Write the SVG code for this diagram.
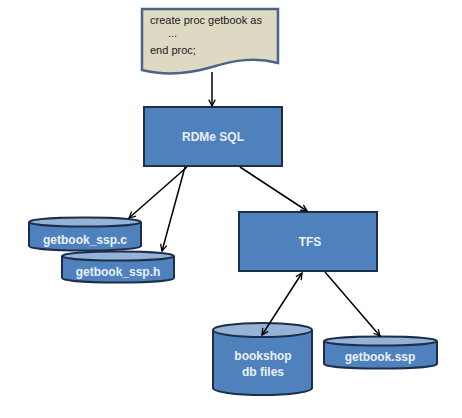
<svg xmlns="http://www.w3.org/2000/svg" width="462" height="418" viewBox="0 0 462 418">
<style>
.box{fill:#4F81BD;stroke:#1C2E4A;stroke-width:2}
.cyl{fill:#4F81BD;stroke:#1C2E4A;stroke-width:2}
.cyltop{fill:#95B3D7;stroke:#1C2E4A;stroke-width:2}
.lbl{font-family:"Liberation Sans",Arial,sans-serif;font-weight:bold;font-size:12px;fill:#EAF0F8;text-anchor:middle}
.doc{font-family:"Liberation Sans",Arial,sans-serif;font-size:11px;fill:#1a1a1a}
.con{stroke:#000;stroke-width:1.5;fill:none}
</style>
<defs>
<marker id="ah" viewBox="0 0 10 10" refX="9" refY="5" markerWidth="8" markerHeight="8" orient="auto-start-reverse" markerUnits="userSpaceOnUse">
<path d="M1,1 L9,5 L1,9" fill="none" stroke="#000" stroke-width="1.6"/>
</marker>
</defs>
<rect width="462" height="418" fill="#fff"/>
<g id="doc">
<path d="M142,9 H278 V63 C255,57 235,60 212,67 C185,75 162,75 142,70 Z" fill="#DDD9C3" stroke="#4A6488" stroke-width="2.5"/>
<text class="doc" x="150" y="24">create proc getbook as</text>
<text class="doc" x="168" y="37">...</text>
<text class="doc" x="150" y="54">end proc;</text>
</g>
<g id="rdme">
<rect class="box" x="144" y="107" width="138" height="59"/>
<text class="lbl" x="213" y="141">RDMe SQL</text>
</g>
<g id="tfs">
<rect class="box" x="239" y="212" width="138" height="59"/>
<text class="lbl" x="310" y="246">TFS</text>
</g>
<g id="sspc">
<path class="cyl" d="M29,222 V246 A56,4.5 0 0 0 141,246 V222"/>
<ellipse class="cyltop" cx="85" cy="222" rx="56" ry="4.5"/>
<text class="lbl" x="85" y="244" font-size="11">getbook_ssp.c</text>
</g>
<g id="ssph">
<path class="cyl" d="M62,256 V278 A56,4.5 0 0 0 174,278 V256"/>
<ellipse class="cyltop" cx="118" cy="256" rx="56" ry="4.5"/>
<text class="lbl" x="118" y="276" font-size="11">getbook_ssp.h</text>
</g>
<g id="bookshop">
<path class="cyl" d="M213,330 V388 A49.5,7 0 0 0 312,388 V330"/>
<ellipse class="cyltop" cx="262.5" cy="330" rx="49.5" ry="7"/>
<text class="lbl" x="263" y="360" font-size="11">bookshop</text>
<text class="lbl" x="263" y="376" font-size="11">db files</text>
</g>
<g id="ssp">
<path class="cyl" d="M324,341 V364 A56.5,4.5 0 0 0 437,364 V341"/>
<ellipse class="cyltop" cx="380.5" cy="341" rx="56.5" ry="4.5"/>
<text class="lbl" x="380" y="361" font-size="11">getbook.ssp</text>
</g>
<g id="connectors">
<line class="con" x1="212" y1="72" x2="212" y2="106" marker-end="url(#ah)"/>
<line class="con" x1="187" y1="167" x2="129" y2="218" marker-end="url(#ah)"/>
<line class="con" x1="185" y1="167" x2="162" y2="251" marker-end="url(#ah)"/>
<line class="con" x1="240" y1="167" x2="307" y2="211" marker-end="url(#ah)"/>
<line class="con" x1="302" y1="273" x2="262" y2="335" marker-start="url(#ah)" marker-end="url(#ah)"/>
<line class="con" x1="325" y1="272" x2="380" y2="336" marker-end="url(#ah)"/>
</g>
</svg>
